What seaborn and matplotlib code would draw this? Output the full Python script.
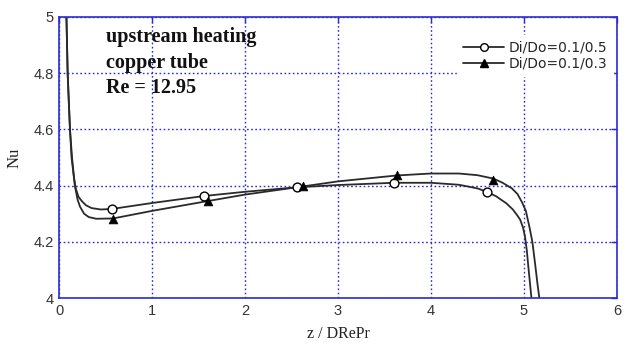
import matplotlib
matplotlib.use("Agg")
import matplotlib.pyplot as plt
import seaborn as sns
import pandas as pd
from matplotlib.lines import Line2D

# ---- data ----
curve_a_x = [0.08, 0.093, 0.105, 0.118, 0.135, 0.16, 0.18, 0.21, 0.245, 0.29, 0.35, 0.45, 0.57,
             1.0, 1.56, 2.0, 2.56, 3.0, 3.6, 4.0, 4.3, 4.5, 4.6, 4.7, 4.81, 4.88, 4.93, 4.96,
             4.99, 5.01, 5.03, 5.05, 5.065, 5.08, 5.09]
curve_a_y = [5.0, 4.8, 4.7, 4.6, 4.5, 4.43, 4.39, 4.36, 4.345, 4.33, 4.32, 4.315, 4.317,
             4.338, 4.363, 4.378, 4.394, 4.402, 4.41, 4.41, 4.403, 4.39, 4.378, 4.362, 4.337, 4.315, 4.293, 4.278,
             4.25, 4.22, 4.17, 4.1, 4.05, 4.0, 3.95]
curve_b_x = [0.08, 0.093, 0.118, 0.14, 0.17, 0.2, 0.226, 0.27, 0.32, 0.4, 0.58,
             1.0, 1.6, 2.0, 2.6, 3.0, 3.63, 4.0, 4.3, 4.5, 4.67, 4.77, 4.87, 4.93,
             4.98, 5.02, 5.06, 5.09, 5.12, 5.145, 5.165, 5.175]
curve_b_y = [5.0, 4.8, 4.6, 4.5, 4.4, 4.35, 4.325, 4.3, 4.288, 4.282, 4.283,
             4.31, 4.345, 4.368, 4.396, 4.415, 4.436, 4.443, 4.443, 4.437, 4.425, 4.41, 4.39, 4.37,
             4.34, 4.31, 4.25, 4.2, 4.12, 4.05, 4.0, 3.95]
marker_a_x = [0.57, 1.56, 2.56, 3.6, 4.6]
marker_a_y = [4.316, 4.363, 4.394, 4.41, 4.378]
marker_b_x = [0.58, 1.6, 2.62, 3.63, 4.67]
marker_b_y = [4.28, 4.345, 4.397, 4.438, 4.42]
series_labels = ["Di/Do=0.1/0.5", "Di/Do=0.1/0.3"]
xticks = [0, 1, 2, 3, 4, 5, 6]
yticks = [4, 4.2, 4.4, 4.6, 4.8, 5]
ytick_labels = ["4", "4.2", "4.4", "4.6", "4.8", "5"]

sns.set_style("white")
plt.rcParams['font.family'] = ['Liberation Sans', 'DejaVu Sans']

fig = plt.figure(figsize=(6.32, 3.44), dpi=100)
ax = fig.add_axes([59/632, 1-298/344, (617-59)/632, (298-17)/344])

blue = "#2b2bd6"
line_col = "#2a2a2a"

df_a = pd.DataFrame({"x": curve_a_x, "y": curve_a_y})
df_b = pd.DataFrame({"x": curve_b_x, "y": curve_b_y})
sns.lineplot(data=df_a, x="x", y="y", sort=False, estimator=None, color=line_col, lw=1.3, ax=ax)
sns.lineplot(data=df_b, x="x", y="y", sort=False, estimator=None, color=line_col, lw=1.3, ax=ax)
sns.scatterplot(x=marker_a_x, y=marker_a_y, marker="o", s=40, facecolor="white",
                edgecolor="black", linewidth=1.0, ax=ax, zorder=5)
sns.scatterplot(x=marker_b_x, y=marker_b_y, marker="^", s=40, color="black",
                edgecolor="black", ax=ax, zorder=5)

ax.set_xlim(0, 6)
ax.set_ylim(4, 5)
ax.set_xticks(xticks)
ax.set_yticks(yticks)
ax.set_yticklabels(ytick_labels)
ax.grid(True, color=blue, linestyle=(0, (1.2, 1.8)), linewidth=1.0)
for s in ax.spines.values():
    s.set_color(blue)
    s.set_linewidth(1.2)
ax.tick_params(direction="in", colors=blue, labelcolor="#333333", labelsize=10.5,
               top=True, right=True, length=4, width=1.0, pad=4)

ax.set_xlabel("z / DRePr", family=["Liberation Serif"], fontsize=11.5, color="#222222", labelpad=6)
ax.set_ylabel("Nu", family=["Liberation Serif"], fontsize=12, color="#222222", labelpad=8)

ax.text(0.085, 0.965, "upstream heating\ncopper tube\nRe = 12.95", transform=ax.transAxes,
        family=["Liberation Serif"], fontweight="bold", fontsize=14.5, va="top", ha="left",
        linespacing=1.38, color="#111111")

handles = [Line2D([0], [0], color=line_col, lw=1.3, marker="o", markersize=5.5,
                  markerfacecolor="white", markeredgecolor="black"),
           Line2D([0], [0], color=line_col, lw=1.3, marker="^", markersize=5.5,
                  markerfacecolor="black", markeredgecolor="black")]
leg = ax.legend(handles, series_labels, loc="upper right", frameon=True,
                prop={"family": "DejaVu Sans", "size": 10},
                facecolor="white", edgecolor="white", framealpha=1, fancybox=False,
                handlelength=3.0, handletextpad=0.3, labelspacing=0.15,
                borderaxespad=0.3, bbox_to_anchor=(1.0, 0.95))
leg.set_zorder(10)

fig.savefig("out.png", dpi=100)
